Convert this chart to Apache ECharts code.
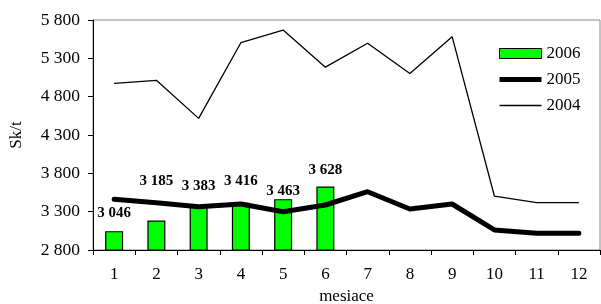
<!DOCTYPE html>
<html><head><meta charset="utf-8">
<script src="https://cdn.jsdelivr.net/npm/echarts@6/dist/echarts.min.js"></script>
<style>html,body{margin:0;padding:0;background:#fff}#c{width:601px;height:304px}</style>
</head><body><div id="c"></div>
<script>
const months = ['1','2','3','4','5','6','7','8','9','10','11','12'];
const s2006 = [3046, 3185, 3383, 3416, 3463, 3628];
const s2005 = [3461, 3417, 3365, 3400, 3300, 3387, 3560, 3335, 3400, 3061, 3017, 3017];
const s2004 = [4974, 5013, 4517, 5504, 5669, 5185, 5496, 5102, 5583, 3504, 3417, 3417];
// label distances above bars (layout only)
const labelGap = [11, 32, 12, 14, 1, 9];

const fmt = v => String(v).replace(/\B(?=(\d{3})+(?!\d))/g, ' ');
const font = '"Liberation Serif", "Times New Roman", serif';

const chart = echarts.init(document.getElementById('c'), null, {renderer: 'canvas'});
chart.setOption({
  animation: false,
  textStyle: {fontFamily: font},
  grid: {left: 93, right: 1, top: 20, bottom: 54, outerBoundsMode: 'none', containLabel: false,
    show: true, borderColor: '#888', borderWidth: 1, backgroundColor: 'transparent'},
  legend: {
    orient: 'vertical', left: 494, top: 40, itemWidth: 42, itemHeight: 10, itemGap: 9,
    symbolKeepAspect: true,
    textStyle: {fontFamily: font, fontSize: 17, color: '#000'},
    data: [
      {name: '2006', icon: 'rect', itemStyle: {color: '#00ff00', borderColor: '#000', borderWidth: 1}},
      {name: '2005', icon: 'path://M0,0h84v10h-84z', itemStyle: {color: '#000', borderWidth: 0}},
      {name: '2004', icon: 'path://M0,0h84v2.6h-84z', itemStyle: {color: '#000', borderWidth: 0}}
    ]
  },
  xAxis: {
    type: 'category', data: months, boundaryGap: true,
    name: 'mesiace', nameLocation: 'middle', nameGap: 38,
    nameTextStyle: {fontFamily: font, fontSize: 17, color: '#000'},
    axisLine: {lineStyle: {color: '#000', width: 1}},
    axisTick: {show: true, inside: false, length: 5, alignWithLabel: false, lineStyle: {color: '#000'}},
    axisLabel: {fontFamily: font, fontSize: 17, color: '#000', margin: 16}
  },
  yAxis: {
    type: 'value', min: 2800, max: 5800, interval: 500,
    name: 'Sk/t', nameLocation: 'middle', nameGap: 68, nameRotate: 90,
    nameTextStyle: {fontFamily: font, fontSize: 17, color: '#000'},
    axisLine: {show: true, lineStyle: {color: '#000', width: 1}},
    axisTick: {show: true, length: 5, lineStyle: {color: '#000'}},
    splitLine: {show: false},
    axisLabel: {fontFamily: font, fontSize: 17.5, color: '#000', margin: 13, formatter: v => fmt(v)}
  },
  series: [
    {
      name: '2006', type: 'bar', barWidth: 18, z: 2,
      itemStyle: {color: '#00ff00', borderColor: '#000', borderWidth: 1.2},
      data: s2006.map((v, i) => ({
        value: v,
        label: {show: true, position: 'top', distance: labelGap[i], formatter: p => fmt(p.value),
          fontFamily: font, fontSize: 15, fontWeight: 'bold', color: '#000'}
      }))
    },
    {
      name: '2005', type: 'line', data: s2005, symbol: 'none', z: 3,
      lineStyle: {color: '#000', width: 5, cap: 'round', join: 'round'}, itemStyle: {color: '#000'}
    },
    {
      name: '2004', type: 'line', data: s2004, symbol: 'none', z: 3,
      lineStyle: {color: '#000', width: 1.3}, itemStyle: {color: '#000'}
    }
  ]
});
</script></body></html>
